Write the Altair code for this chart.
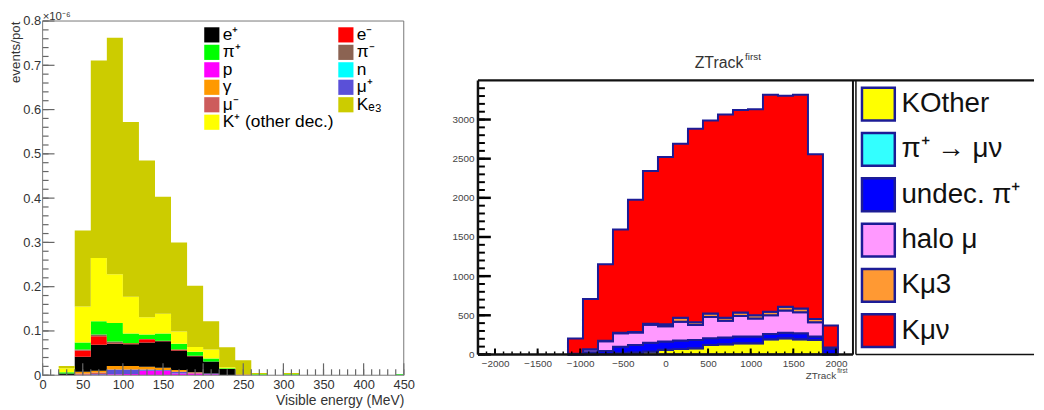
import altair as alt
import pandas as pd

FONT = "Liberation Sans"

# ---------------- Left panel: visible energy (units of 1e-6 events/pot) ----------------
energy_bin_start = [20, 40, 60, 80, 100, 120, 140, 160, 180, 200, 220, 240,
                    260, 280, 300, 320, 340, 360, 380, 400, 420, 440]
energy_bin_width = 20
energy_series = ["p", "μ⁺", "μ⁻", "γ", "n", "e⁺", "e⁻", "π⁻", "π⁺", "K⁺ (other dec.)", "Kₑ₃"]
energy_colors = ["#ff00ff", "#5a50d8", "#cd5c5c", "#ff9900", "#00ffff", "#000000",
                 "#ff0000", "#8b6352", "#00ff00", "#ffff00", "#cccc00"]
p_vals   = [0, .001, .001, .002, .003, .010, .010, .004, .004, .002, 0, 0, 0, 0, 0, 0, 0, 0, 0, 0, 0, 0]
mup_vals = [0, 0, .002, .011, .010, .003, .002, .004, 0, .002, 0, 0, 0, 0, 0, 0, 0, 0, 0, 0, 0, 0]
mum_vals = [0, .003, .003, 0, 0, 0, 0, 0, .002, 0, 0, 0, 0, 0, 0, 0, 0, 0, 0, 0, 0, 0]
gam_vals = [0, .004, .004, .008, .008, .006, .005, .004, .001, 0, 0, .002, 0, 0, 0, 0, 0, 0, 0, 0, 0, 0]
n_vals   = [0, 0, 0, 0, 0, 0, 0, 0, 0, 0, 0, 0, 0, 0, 0, 0, 0, 0, 0, 0, 0, 0]
ep_vals  = [.004, .034, .059, .050, .049, .055, .060, .044, .036, .027, .014, 0, 0, 0, 0, 0, 0, 0, 0, 0, 0, 0]
em_vals  = [0, .014, .019, .001, .002, .007, .001, .002, .001, 0, 0, 0, 0, 0, 0, 0, 0, 0, 0, 0, 0, 0]
pim_vals = [0, .002, .004, .004, 0, .001, 0, 0, 0, 0, 0, 0, 0, 0, 0, 0, 0, 0, 0, 0, 0, 0]
pip_vals = [.003, .016, .030, .042, .022, .010, .016, .013, .009, .007, .002, 0, .002, 0, .002, 0, 0, 0, 0, 0, 0, .002]
kp_vals  = [.009, .081, .143, .110, .083, .039, .045, .028, .011, .020, .002, 0, .001, 0, .001, 0, 0, 0, 0, 0, 0, 0]
ke3_vals = [.005, .172, .446, .534, .395, .354, .264, .201, .138, .064, .045, .032, .002, 0, .002, 0, 0, 0, 0, 0, 0, 0]
energy_values = [p_vals, mup_vals, mum_vals, gam_vals, n_vals, ep_vals, em_vals,
                 pim_vals, pip_vals, kp_vals, ke3_vals]
energy_legend_order = ["e⁺", "e⁻", "π⁺", "π⁻", "p", "n", "γ", "μ⁺", "μ⁻", "Kₑ₃", "K⁺ (other dec.)"]

# ---------------- Right panel: ZTrack first ----------------
z_bin_start = [-1144, -968, -792, -616, -440, -264, -88, 88, 264, 440, 616, 792,
               968, 1144, 1320, 1496, 1672, 1848]
z_bin_width = 176
z_series = ["KOther", "π⁺ → μν", "undec. π⁺", "halo μ", "Kμ3", "Kμν"]
z_colors = ["#ffff00", "#33ffff", "#0000ff", "#ff99ff", "#ff9933", "#ff0000"]
kother_vals = [0, 3, 10, 17, 25, 38, 59, 68, 80, 122, 131, 143, 143, 194, 207, 194, 186, 0]
pimunu_vals = [0, 0, 0, 0, 0, 0, 0, 0, 0, 0, 0, 0, 0, 0, 0, 0, 0, 0]
undec_vals  = [5, 25, 35, 83, 95, 110, 106, 110, 106, 85, 84, 85, 85, 68, 71, 76, 42, 70]
halo_vals   = [5, 35, 125, 170, 160, 232, 195, 240, 190, 270, 215, 262, 232, 238, 282, 270, 182, 20]
kmu3_vals   = [0, 5, 5, 8, 8, 12, 25, 50, 36, 45, 40, 45, 42, 45, 50, 48, 42, 0]
kmunu_vals  = [195, 641, 977, 1317, 1687, 1950, 2138, 2224, 2470, 2465, 2593, 2587,
               2628, 2771, 2693, 2728, 2105, 280]
z_values = [kother_vals, pimunu_vals, undec_vals, halo_vals, kmu3_vals, kmunu_vals]


def step_table(starts, width, names, values):
    rows = []
    for i, (name, vals) in enumerate(zip(names, values)):
        xs = starts + [starts[-1] + width]
        vs = vals + [vals[-1]]
        for x, v in zip(xs, vs):
            rows.append({"x": x, "v": v, "s": name, "o": i})
    return pd.DataFrame(rows)


dummy = pd.DataFrame({"d": [0]})


def hrule(x1, x2, y, color, w):
    return alt.Chart(dummy).mark_rule(color=color, strokeWidth=w).encode(
        x=alt.value(x1), x2=alt.value(x2), y=alt.value(y))


def vrule(x, y1, y2, color, w):
    return alt.Chart(dummy).mark_rule(color=color, strokeWidth=w).encode(
        x=alt.value(x), y=alt.value(y1), y2=alt.value(y2))


def xticks(vals, scale, ybase, length, color, w):
    return alt.Chart(pd.DataFrame({"tx": vals})).mark_rule(color=color, strokeWidth=w).encode(
        x=alt.X("tx:Q", scale=scale, axis=None), y=alt.value(ybase), y2=alt.value(ybase - length))


def yticks(vals, scale, length, color, w):
    return alt.Chart(pd.DataFrame({"ty": vals})).mark_rule(color=color, strokeWidth=w).encode(
        y=alt.Y("ty:Q", scale=scale, axis=None), x=alt.value(0), x2=alt.value(length))


def label(text, x, y, size, align="left", color="#333"):
    return alt.Chart(dummy).mark_text(text=text, align=align, baseline="alphabetic",
                                      fontSize=size, font=FONT, color=color).encode(
        x=alt.value(x), y=alt.value(y))


# ================= LEFT CHART =================
W1, H1 = 365, 358
df1 = step_table(energy_bin_start, energy_bin_width, energy_series, energy_values)
xsc1 = alt.Scale(domain=[0, 450], nice=False, zero=False)
ysc1 = alt.Scale(domain=[0, 0.8], nice=False)
col1 = alt.Scale(domain=energy_series, range=energy_colors)

hist1 = alt.Chart(df1).mark_area(interpolate="step-after", clip=True).encode(
    x=alt.X("x:Q", scale=xsc1, axis=alt.Axis(
        values=list(range(0, 451, 50)), title="Visible energy (MeV)", ticks=False, domain=False,
        grid=False, labelFontSize=13, labelColor="#333", labelPadding=3, labelFlush=False,
        titleFontSize=14, titleFontWeight="normal", titleColor="#333", titleAnchor="end",
        titlePadding=3, labelFont=FONT, titleFont=FONT)),
    y=alt.Y("v:Q", stack="zero", scale=ysc1, axis=alt.Axis(
        values=[0, 0.1, 0.2, 0.3, 0.4, 0.5, 0.6, 0.7, 0.8], title="events/pot", ticks=False,
        domain=False, grid=False, labelFontSize=13, labelColor="#333", labelPadding=2,
        labelFlush=False, labelExpr="datum.value == 0 ? '0' : format(datum.value, '.1f')",
        titleFontSize=13.5, titleFontWeight="normal", titleColor="#333", titleAnchor="end",
        titlePadding=0, labelFont=FONT, titleFont=FONT)),
    color=alt.Color("s:N", scale=col1, legend=None),
    order=alt.Order("o:Q"),
)

tick_col1 = "#666"
left_deco = alt.layer(
    xticks(list(range(0, 451, 10)), xsc1, H1, 6, tick_col1, 1.2),
    xticks(list(range(0, 451, 50)), xsc1, H1, 12, tick_col1, 1.2),
    yticks([i / 100 for i in range(0, 81, 2)], ysc1, 6, tick_col1, 1.2),
    yticks([i / 10 for i in range(0, 9)], ysc1, 12, tick_col1, 1.2),
    hrule(0, W1, 0, "#777", 1),
    hrule(0, W1, H1, "#777", 1),
    vrule(0, 0, H1, "#777", 1),
    vrule(W1, 0, H1, "#777", 1),
    label("×10⁻⁶", 0, -1, 11.5),
)

leg1 = pd.DataFrame({
    "name": energy_legend_order,
    "col": [i % 2 for i in range(len(energy_legend_order))],
    "row": [i // 2 for i in range(len(energy_legend_order))],
})
leg1_x = alt.X("col:O", scale=alt.Scale(type="point", range=[171, 306.5], padding=0), axis=None)
leg1_y = alt.Y("row:O", scale=alt.Scale(type="point", range=[14, 102.3], padding=0), axis=None)
leg1_sym = alt.Chart(leg1).mark_square(size=235, opacity=1).encode(
    x=leg1_x, y=leg1_y, color=alt.Color("name:N", scale=col1, legend=None))
leg1_txt = alt.Chart(leg1).mark_text(align="left", baseline="middle", dx=11, fontSize=17.5,
                                     font=FONT, color="#000").encode(
    x=leg1_x, y=leg1_y, text="name:N")

left = alt.layer(hist1, left_deco, alt.layer(leg1_sym, leg1_txt)).resolve_scale(
    x="independent", y="independent").properties(width=W1, height=H1)

# ================= RIGHT CHART =================
W2, H2, TOP2 = 379, 337, 60
NAVY = "#1c1c96"
df2 = step_table(z_bin_start, z_bin_width, z_series, z_values)
xsc2 = alt.Scale(domain=[-2200, 2200], nice=False, zero=False)
ysc2 = alt.Scale(domain=[0, 3500], range=[H2, TOP2], nice=False)
col2 = alt.Scale(domain=z_series, range=z_colors)

hist2 = alt.Chart(df2).mark_area(interpolate="step-after", stroke=NAVY, strokeWidth=2,
                                 strokeJoin="miter").encode(
    x=alt.X("x:Q", scale=xsc2, axis=alt.Axis(
        values=list(range(-2000, 2001, 500)), format="d", title=None, ticks=False, domain=False,
        grid=False, labelFontSize=10, labelColor="#444", labelPadding=4, labelFlush=False,
        labelFont=FONT)),
    y=alt.Y("v:Q", stack="zero", scale=ysc2, axis=alt.Axis(
        values=list(range(0, 3001, 500)), format="d", title=None, ticks=False, domain=False,
        grid=False, labelFontSize=10, labelColor="#444", labelPadding=4, labelFlush=False,
        labelFont=FONT)),
    color=alt.Color("s:N", scale=col2, legend=None),
    order=alt.Order("o:Q"),
)

right_deco = alt.layer(
    xticks(list(range(-2200, 2201, 100)), xsc2, H2, 3, "#000", 1.5),
    xticks(list(range(-2000, 2001, 500)), xsc2, H2, 6, "#000", 2),
    yticks(list(range(0, 3401, 100)), ysc2, 7, "#000", 2),
    yticks(list(range(0, 3001, 500)), ysc2, 13, "#000", 2.5),
    hrule(0, 562, TOP2, "#111", 2.5),
    hrule(0, W2, H2, "#111", 2.5),
    vrule(0, TOP2, H2, "#111", 2.5),
    vrule(W2, TOP2, H2, "#111", 2),
    vrule(382, TOP2, H2, "#111", 1.5),
    hrule(382, 562, H2, "#111", 1.5),
    label("ZTrack", 219, 47, 16),
    label("first", 270, 39, 10),
    label("ZTrack", 362, 362, 10, align="right", color="#444"),
    label("first", 363, 356, 6.5, color="#444"),
)

leg2 = pd.DataFrame({"name": z_series, "row": list(range(len(z_series)))})
leg2_y = alt.Y("row:O", scale=alt.Scale(type="point", range=[84, 313], padding=0), axis=None)
leg2_sym = alt.Chart(leg2).mark_point(shape="square", size=1100, filled=True, opacity=1,
                                      stroke=NAVY, strokeWidth=2.5).encode(
    x=alt.value(404.7), y=leg2_y, fill=alt.Fill("name:N", scale=col2, legend=None))
leg2_txt = alt.Chart(leg2).mark_text(align="left", baseline="middle", fontSize=28, font=FONT,
                                     color="#111").encode(
    x=alt.value(428), y=leg2_y, text="name:N")

right = alt.layer(hist2, right_deco, alt.layer(leg2_sym, leg2_txt)).resolve_scale(
    x="independent", y="independent").properties(width=W2, height=H2)

chart = alt.hconcat(left, right, spacing=75, bounds="flush").resolve_scale(
    color="independent", fill="independent"
).properties(
    padding={"left": 0, "top": 0, "right": 0, "bottom": 0}
).configure(font=FONT).configure_view(stroke="transparent")

chart.save("out.html", embed_options={"renderer": "svg", "actions": False})
